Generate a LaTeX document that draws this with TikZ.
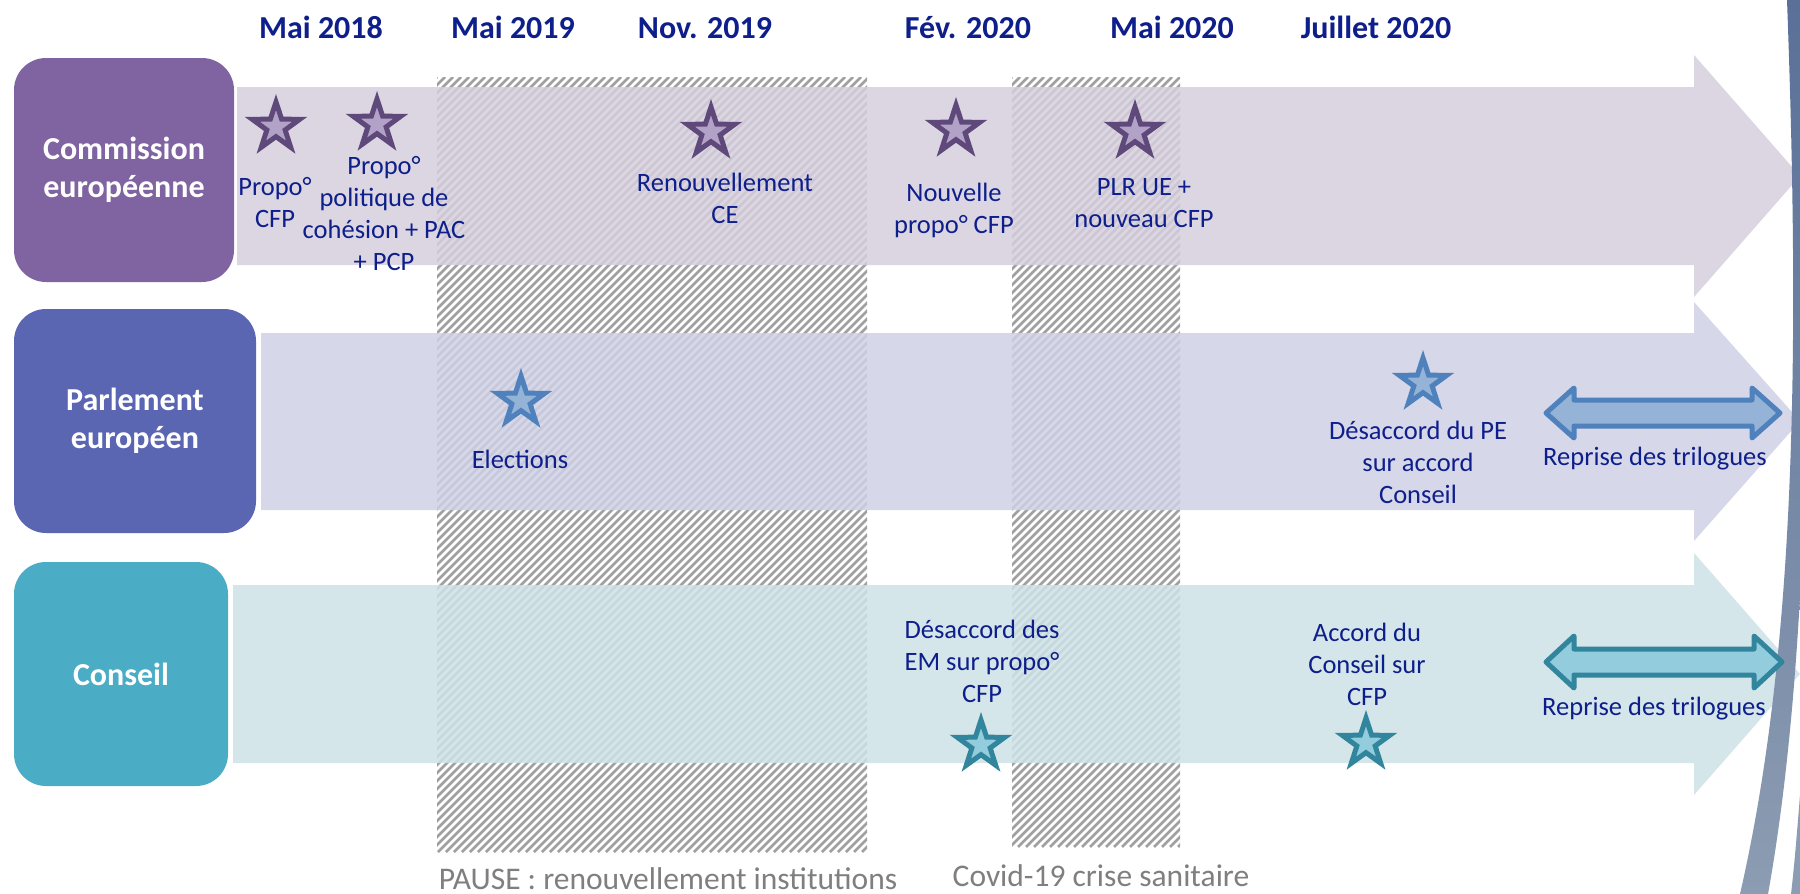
\documentclass[tikz,border=0pt]{standalone}
\usepackage{fontspec}
\setmainfont{Carlito}
\usetikzlibrary{shapes.geometric}
\definecolor{navy}{HTML}{0E1E8A}
\definecolor{cebox}{HTML}{8064A2}
\definecolor{pebox}{HTML}{5B66B2}
\definecolor{cobox}{HTML}{4BACC6}
\definecolor{ceband}{RGB}{214,207,222}
\definecolor{peband}{RGB}{207,208,228}
\definecolor{coband}{RGB}{205,226,230}
\definecolor{cestarf}{HTML}{B3A2C7}
\definecolor{cestard}{HTML}{5F497A}
\definecolor{pestarf}{HTML}{95B3D7}
\definecolor{pestard}{HTML}{4F81BD}
\definecolor{costarf}{HTML}{93CDDD}
\definecolor{costard}{HTML}{31859C}
\definecolor{hatchgray}{HTML}{A0A0A0}
\definecolor{footgray}{HTML}{7F7F7F}
\definecolor{stripetop}{HTML}{5A7098}
\definecolor{stripebot}{HTML}{8C9CB2}
\newcommand\datefont{\fontsize{32}{38}\bfseries\selectfont}
\newcommand\boxfont{\fontsize{32}{38}\bfseries\selectfont}
\newcommand\bodyfont{\fontsize{26.5}{32}\selectfont}
\newcommand\footfont{\fontsize{31.5}{38}\selectfont}
\tikzset{
  datelbl/.style={text=navy, font=\datefont, anchor=base, inner sep=0pt},
  boxlbl/.style={rounded corners=32pt, text=white, font=\boxfont, align=center, minimum height=224pt, inner sep=0pt},
  evt/.style={text=navy, font=\bodyfont, align=center, anchor=base, inner sep=0pt},
  foot/.style={text=footgray, font=\footfont, anchor=base, inner sep=0pt},
  star5/.style={star, star points=5, star point ratio=2.6, minimum size=50pt, inner sep=0pt, line width=5pt},
  cestar/.style={star5, fill=cestarf, draw=cestard},
  pestar/.style={star5, fill=pestarf, draw=pestard},
  costar/.style={star5, fill=costarf, draw=costard},
  hatchline/.style={draw=hatchgray, line width=2.6pt},
  band/.style={opacity=0.85},
  dblarrow/.style={line width=5pt, line join=round},
}
\begin{document}
\begin{tikzpicture}[x=1pt,y=-1pt]
\useasboundingbox (0,0) rectangle (1800,894);
\fill[white] (0,0) rectangle (1800,894);

% hatched periods
\begin{scope}
\clip (437,77) rectangle (867,852);
\foreach \i in {0,...,152} \draw[hatchline] ({437-775+\i*8},852) -- ++(775,-775);
\end{scope}
\begin{scope}
\clip (1012,77) rectangle (1180,847);
\foreach \i in {0,...,119} \draw[hatchline] ({1012-770+\i*8},847) -- ++(770,-770);
\end{scope}

% bands
\fill[band, ceband] (237,87) -- (1694,87) -- (1694,55) -- (1800,176) -- (1694,297) -- (1694,265) -- (237,265) -- cycle;
\fill[band, peband] (261,333) -- (1694,333) -- (1694,302) -- (1800,421) -- (1694,541) -- (1694,510) -- (261,510) -- cycle;
\fill[band, coband] (233,585) -- (1694,585) -- (1694,553) -- (1800,674) -- (1694,795) -- (1694,763) -- (233,763) -- cycle;

% right decorative stripe
\shade[top color=stripetop, bottom color=stripebot]
  (1787,0) .. controls (1800,350) and (1796,650) .. (1740,894) -- (1768,894)
  .. controls (1812,650) and (1812,300) .. (1802,0) -- cycle;
\fill[stripebot] (1802,770) .. controls (1798,820) and (1795,860) .. (1791,894) -- (1802,894) -- cycle;

% actor boxes
\node[boxlbl, fill=cebox, minimum width=220pt] (ce) at (124,170) {Commission\\européenne};
\node[boxlbl, fill=pebox, minimum width=242pt] (pe) at (135,421) {Parlement\\européen};
\node[boxlbl, fill=cobox, minimum width=214pt] (co) at (121,674) {Conseil};

% dates
\node[datelbl] (d1) at (321,38) {Mai 2018};
\node[datelbl] (d2) at (513,38) {Mai 2019};
\node[datelbl] (d3) at (705,38) {Nov. 2019};
\node[datelbl] (d4) at (968,38) {Fév. 2020};
\node[datelbl] (d5) at (1172,38) {Mai 2020};
\node[datelbl] (d6) at (1376,38) {Juillet 2020};

% Commission events (anchor = baseline of last line)
\node[cestar] (s1) at (276,127) {};
\node[evt] (t1) at (275,227) {Propo°\\CFP};
\node[cestar] (s2) at (377,124) {};
\node[evt] (t2) at (384,270) {Propo°\\politique de\\cohésion + PAC\\+ PCP};
\node[cestar] (s3) at (711,132) {};
\node[evt] (t3) at (725,223) {Renouvellement\\CE};
\node[cestar] (s4) at (956,130) {};
\node[evt] (t4) at (954,233) {Nouvelle\\propo° CFP};
\node[cestar] (s5) at (1135,132) {};
\node[evt] (t5) at (1144,227) {PLR UE +\\nouveau CFP};

% Parlement events
\node[pestar] (s6) at (521,401) {};
\node[evt] (t6) at (520,468) {Elections};
\node[pestar] (s7) at (1423,383) {};
\node[evt] (t7) at (1418,503) {Désaccord du PE\\sur accord\\Conseil};
\draw[dblarrow, fill=pestarf, draw=pestard]
  (1546,413) -- (1574,388) -- (1574,400) -- (1752,400) -- (1752,388) -- (1780,413)
  -- (1752,438) -- (1752,426) -- (1574,426) -- (1574,438) -- cycle;
\node[evt] (t8) at (1655,465) {Reprise des trilogues};

% Conseil events
\node[evt] (t9) at (982,702) {Désaccord des\\EM sur propo°\\CFP};
\node[costar] (s9) at (981,745) {};
\node[evt] (t10) at (1367,705) {Accord du\\Conseil sur\\CFP};
\node[costar] (s10) at (1366,743) {};
\draw[dblarrow, fill=costarf, draw=costard]
  (1546,662) -- (1574,636) -- (1574,649) -- (1754,649) -- (1754,636) -- (1782,662)
  -- (1754,688) -- (1754,675) -- (1574,675) -- (1574,688) -- cycle;
\node[evt] (t11) at (1654,715) {Reprise des trilogues};

% footers
\node[foot] (f1) at (668,889) {PAUSE : renouvellement institutions};
\node[foot] (f2) at (1101,886) {Covid-19 crise sanitaire};
\end{tikzpicture}
\end{document}
